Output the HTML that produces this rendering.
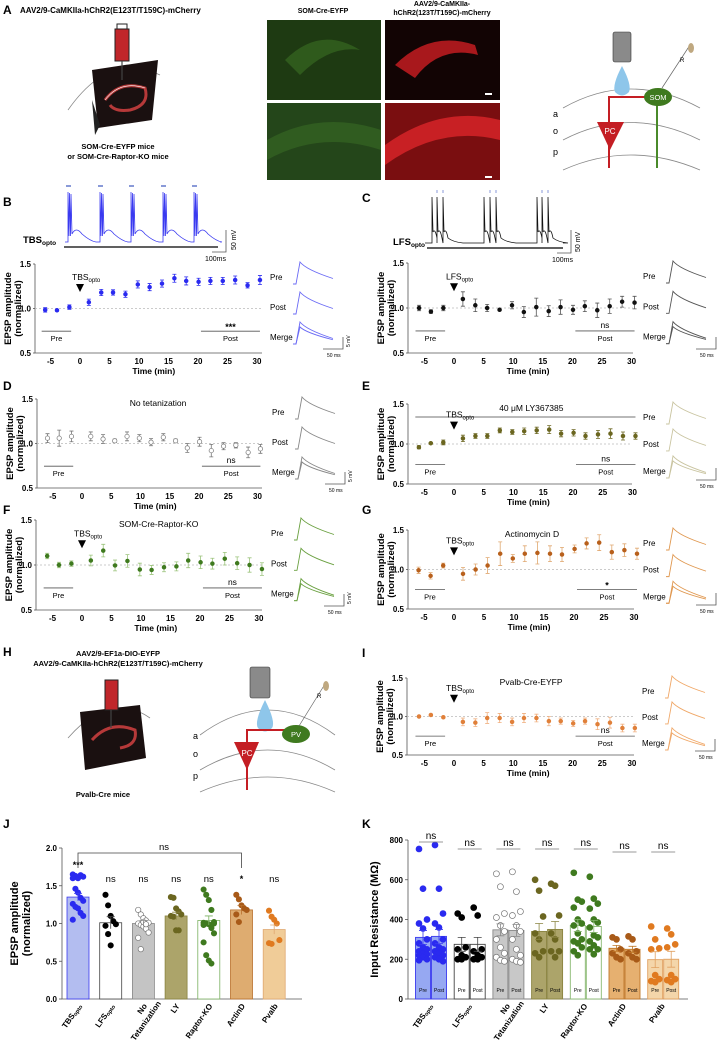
<!DOCTYPE html>
<html><head><meta charset="utf-8"><style>
html,body{margin:0;padding:0;background:#fff;}
svg{display:block;font-family:"Liberation Sans",Arial,sans-serif;}
</style></head><body>
<svg id="fig" width="717" height="1042" viewBox="0 0 717 1042" xmlns="http://www.w3.org/2000/svg">
<!-- Panel A -->
<g>
<text x="3" y="14" font-size="12" font-weight="bold">A</text>
<text x="20" y="13" font-size="8" font-weight="bold">AAV2/9-CaMKIIa-hChR2(E123T/T159C)-mCherry</text>
<path d="M68 110 Q110 50 160 75" fill="none" stroke="#888" stroke-width="0.8"/>
<polygon points="92,70 158,60 152,120 98,128" fill="#1a1010"/>
<polygon points="92,100 100,125 95,135" fill="#222"/>
<path d="M105 100 Q120 80 145 88 Q150 105 130 110 Q115 112 110 105" fill="none" stroke="#d44" stroke-width="3" opacity="0.8"/>
<path d="M105 100 Q120 80 145 88" fill="none" stroke="#fff" stroke-width="0.6"/>
<rect x="115" y="29" width="14" height="32" fill="#c0262a" stroke="#222" stroke-width="1"/>
<rect x="117" y="24" width="10" height="5" fill="none" stroke="#222"/>
<line x1="122" y1="61" x2="122" y2="80" stroke="#444" stroke-width="1.2"/>
<text x="118" y="149" font-size="7.5" font-weight="bold" text-anchor="middle">SOM-Cre-EYFP mice</text>
<text x="118" y="159" font-size="7.5" font-weight="bold" text-anchor="middle">or SOM-Cre-Raptor-KO mice</text>
<text x="323" y="13" font-size="7" font-weight="bold" text-anchor="middle">SOM-Cre-EYFP</text>
<text x="442" y="6" font-size="7" font-weight="bold" text-anchor="middle">AAV2/9-CaMKIIa-</text>
<text x="442" y="15" font-size="7" font-weight="bold" text-anchor="middle">hChR2(123T/T159C)-mCherry</text>
<rect x="267" y="20" width="114" height="80" fill="#1e3a12"/>
<path d="M285 60 Q320 25 360 50 Q330 45 300 75Z" fill="#2f5a1c"/>
<rect x="267" y="103" width="114" height="77" fill="#24461a"/>
<path d="M267 140 Q320 110 381 130 L381 150 Q320 130 267 160Z" fill="#305c20"/>
<rect x="385" y="20" width="115" height="80" fill="#120404"/>
<path d="M395 65 Q430 30 475 45 L478 55 Q440 45 415 78Z" fill="#a8181c"/>
<rect x="385" y="103" width="115" height="77" fill="#7a0e10"/>
<path d="M385 145 Q440 105 500 120 L500 140 Q440 125 385 165Z" fill="#c82024"/>
<rect x="485" y="93" width="7" height="2" fill="#fff"/>
<rect x="485" y="176" width="7" height="2" fill="#fff"/>
<!-- diagram -->
<path d="M563 108 Q630 70 700 108" fill="none" stroke="#888" stroke-width="0.8"/>
<path d="M563 140 Q630 105 700 140" fill="none" stroke="#888" stroke-width="0.8"/>
<path d="M563 170 Q630 140 700 170" fill="none" stroke="#888" stroke-width="0.8"/>
<rect x="613" y="32" width="18" height="30" rx="2" fill="#8a8a8a" stroke="#333" stroke-width="0.6"/>
<path d="M622 66 Q612 85 615 92 Q622 99 629 92 Q632 85 622 66Z" fill="#8ec6ea"/>
<path d="M609 168 L609 97 L650 97" fill="none" stroke="#c41e24" stroke-width="2"/>
<polygon points="597,122 624,122 610,150" fill="#c41e24"/>
<text x="610" y="134" font-size="8" fill="#fff" text-anchor="middle">PC</text>
<line x1="657" y1="100" x2="657" y2="168" stroke="#4a8a2a" stroke-width="2"/>
<ellipse cx="658" cy="97" rx="14" ry="9" fill="#3f7a1f"/>
<text x="658" y="100" font-size="7.5" fill="#fff" text-anchor="middle">SOM</text>
<line x1="662" y1="88" x2="690" y2="45" stroke="#666" stroke-width="0.7"/>
<ellipse cx="691" cy="48" rx="3" ry="5" fill="#bfa880"/>
<text x="680" y="62" font-size="6">R</text>
<text x="553" y="117" font-size="9">a</text>
<text x="553" y="134" font-size="9">o</text>
<text x="553" y="155" font-size="9">p</text>
</g>
<!-- Panel H -->
<g>
<text x="3" y="656" font-size="12" font-weight="bold">H</text>
<text x="118" y="656" font-size="7.5" font-weight="bold" text-anchor="middle">AAV2/9-EF1a-DIO-EYFP</text>
<text x="118" y="666" font-size="7.5" font-weight="bold" text-anchor="middle">AAV2/9-CaMKIIa-hChR2(E123T/T159C)-mCherry</text>
<path d="M68 738 Q110 690 150 718" fill="none" stroke="#888" stroke-width="0.8"/>
<polygon points="80,712 140,705 146,758 85,770" fill="#1a1010"/>
<path d="M92 740 Q110 720 135 730 Q138 745 120 748" fill="none" stroke="#d44" stroke-width="3" opacity="0.8"/>
<rect x="105" y="680" width="13" height="30" fill="#c0262a" stroke="#222"/>
<line x1="111" y1="710" x2="111" y2="728" stroke="#444" stroke-width="1.2"/>
<text x="103" y="797" font-size="7.5" font-weight="bold" text-anchor="middle">Pvalb-Cre mice</text>
<path d="M200 735 Q268 685 335 735" fill="none" stroke="#888" stroke-width="0.8"/>
<path d="M200 770 Q268 730 335 770" fill="none" stroke="#888" stroke-width="0.8"/>
<path d="M200 792 Q268 762 335 792" fill="none" stroke="#888" stroke-width="0.8"/>
<rect x="250" y="667" width="20" height="31" rx="2" fill="#8a8a8a" stroke="#333" stroke-width="0.6"/>
<path d="M265 700 Q254 722 258 728 Q265 735 272 728 Q276 722 265 700Z" fill="#8ec6ea"/>
<path d="M247 790 L247 730 L286 730" fill="none" stroke="#c41e24" stroke-width="2"/>
<polygon points="234,742 259,742 247,770" fill="#c41e24"/>
<text x="247" y="756" font-size="8" fill="#fff" text-anchor="middle">PC</text>
<ellipse cx="296" cy="734" rx="14" ry="9" fill="#3f7a1f"/>
<text x="296" y="737" font-size="7.5" fill="#fff" text-anchor="middle">PV</text>
<line x1="299" y1="726" x2="325" y2="684" stroke="#666" stroke-width="0.7"/>
<ellipse cx="326" cy="686" rx="3" ry="5" fill="#bfa880"/>
<text x="317" y="698" font-size="6">R</text>
<text x="193" y="739" font-size="9">a</text>
<text x="193" y="757" font-size="9">o</text>
<text x="193" y="779" font-size="9">p</text>
</g>
<g id="dyn"></g>
</svg>
<script>
// ---- Time-course data ----
var times=[-5.9,-3.9,-1.8,1.5,3.6,5.6,7.7,9.8,11.8,13.9,16,18,20.1,22.1,24.2,26.3,28.4,30.5];
var bVals=[0.985,0.98,1.015,1.07,1.18,1.18,1.16,1.27,1.24,1.28,1.34,1.31,1.30,1.31,1.31,1.32,1.26,1.32];
var bErr=[0.025,0.01,0.025,0.035,0.035,0.03,0.035,0.04,0.04,0.04,0.045,0.045,0.04,0.04,0.04,0.045,0.03,0.05];
var cVals=[1.0,0.96,1.0,1.10,1.03,1.0,0.98,1.03,0.955,1.01,0.965,1.01,0.98,1.02,0.975,1.02,1.07,1.06];
var cErr=[0.03,0.02,0.03,0.08,0.07,0.04,0.01,0.04,0.06,0.1,0.06,0.08,0.05,0.06,0.08,0.08,0.06,0.07];
var dVals=[1.06,1.06,1.08,1.08,1.05,1.03,1.08,1.06,1.015,1.07,1.03,0.95,1.02,0.92,0.97,0.98,0.90,0.94];
var dErr=[0.05,0.09,0.06,0.05,0.05,0.02,0.05,0.04,0.04,0.04,0.02,0.05,0.05,0.07,0.04,0.03,0.06,0.05];
var eVals=[0.96,1.01,1.02,1.07,1.10,1.10,1.17,1.15,1.16,1.17,1.18,1.13,1.14,1.10,1.12,1.13,1.10,1.10];
var eErr=[0.02,0.01,0.03,0.04,0.03,0.03,0.03,0.03,0.04,0.04,0.05,0.04,0.04,0.04,0.05,0.06,0.05,0.04];
var fVals=[1.10,1.0,1.015,1.05,1.16,0.995,1.045,0.95,0.945,0.975,0.985,1.05,1.03,1.015,1.07,1.02,1.0,0.955];
var fErr=[0.03,0.03,0.03,0.06,0.07,0.06,0.07,0.07,0.05,0.05,0.05,0.08,0.07,0.06,0.07,0.07,0.08,0.07];
var gVals=[0.99,0.92,1.05,0.945,1.0,1.05,1.2,1.14,1.2,1.21,1.2,1.19,1.26,1.33,1.34,1.22,1.245,1.2];
var gErr=[0.04,0.04,0.03,0.08,0.07,0.1,0.15,0.05,0.1,0.14,0.1,0.09,0.05,0.07,0.1,0.09,0.08,0.07];
var iVals=[1.0,1.02,0.99,0.93,0.92,0.98,0.98,0.93,0.98,0.98,0.94,0.94,0.91,0.94,0.90,0.92,0.85,0.85];
var iErr=[0.01,0.01,0.01,0.05,0.05,0.07,0.06,0.05,0.06,0.05,0.06,0.04,0.04,0.04,0.07,0.07,0.05,0.05];
var timeTicks=[-5,0,5,10,15,20,25,30];
var yTicks=[0.5,1.0,1.5];
// ---- Bar chart J ----
var jCats=["TBS","LFS","No Tetanization","LY","Raptor-KO","ActinD","Pvalb"];
var jMeans=[1.35,1.01,1.0,1.1,1.04,1.18,0.92];
var jSem=[0.05,0.08,0.04,0.05,0.06,0.06,0.06];
var jPts=[[1.65,1.63,1.60,1.64,1.62,1.60,1.46,1.41,1.34,1.30,1.26,1.22,1.20,1.14,1.10,1.05],
[1.38,1.24,1.10,1.03,0.99,0.97,0.86,0.71],
[1.18,1.12,1.07,1.04,1.01,1.0,0.98,0.96,0.93,0.88,0.81,0.66,1.02,0.99],
[1.35,1.34,1.20,1.16,1.12,1.10,1.09,0.91,0.91],
[1.45,1.38,1.31,1.18,1.02,1.01,1.0,0.99,0.94,0.87,0.75,0.58,0.51,0.47,1.0,0.98],
[1.38,1.32,1.24,1.20,1.18,1.12,1.02],
[1.17,1.09,1.05,1.00,0.78,0.74,0.73]];
var jSig=["***","ns","ns","ns","ns","*","ns"];
var jTicks=[0.0,0.5,1.0,1.5,2.0];
// ---- Bar chart K ----
var kPreMeans=[310,275,348,340,370,255,198];
var kPostMeans=[315,275,345,350,365,250,200];
var kSem=[35,35,30,40,30,15,40];
var kPrePts=[[755,555,400,380,355,300,280,260,250,240,230,225,220,210,200,195],[430,410,260,250,220,210,200,200],[630,565,430,410,370,340,300,260,230,210,195,190],[600,545,415,330,300,240,230,210],[635,500,490,460,400,380,370,330,300,290,280,260,240,220],[310,300,250,230,210,200],[365,300,255,250,120,100,90,85]];
var kPostPts=[[775,555,430,380,360,300,280,260,250,240,230,220,210,200,190],[460,420,250,240,220,210,200,200],[640,540,440,420,370,340,300,250,220,200,190,185],[580,570,420,330,300,240,240,210],[615,505,480,455,400,385,360,320,310,290,270,250,250,225],[315,300,240,230,210,200],[355,325,275,260,120,100,95,85]];
var kTicks=[0,200,400,600,800];

var NS="http://www.w3.org/2000/svg";
var root=document.getElementById('dyn');
function mk(tag,attrs,parent,txt){var e=document.createElementNS(NS,tag);for(var k in attrs)e.setAttribute(k,attrs[k]);if(txt!==undefined)e.textContent=txt;(parent||root).appendChild(e);return e;}
function grp(name,parent){var g=mk('g',{},parent);


return g;}

var panels=[
{id:'b',letter:'B',lx:3,ly:206,ax:35,xe:262,y15:264,y05:353,x0:80,k:5.9,col:'#2a2af0',vals:bVals,err:bErr,open:false,title:'',stim:'TBS',sig:'***',tc:'#6b6bf5'},
{id:'c',letter:'C',lx:362,ly:202,ax:408,xe:633,y15:263,y05:353,x0:454,k:5.92,col:'#111',vals:cVals,err:cErr,open:false,title:'',stim:'LFS',sig:'ns',tc:'#555',ecol:'#555'},
{id:'d',letter:'D',lx:3,ly:390,ax:37,xe:262,y15:399,y05:488,x0:82,k:5.85,col:'#777',vals:dVals,err:dErr,open:true,title:'No tetanization',stim:'',sig:'ns',tc:'#888'},
{id:'e',letter:'E',lx:362,ly:390,ax:408,xe:632,y15:404,y05:484,x0:454,k:5.95,col:'#6b6620',vals:eVals,err:eErr,open:false,title:'40  μM LY367385',stim:'TBS',sig:'ns',tc:'#c9c4a0',bar:true},
{id:'f',letter:'F',lx:3,ly:514,ax:36,xe:262,y15:520,y05:610,x0:82,k:5.9,col:'#3f7a1f',vals:fVals,err:fErr,open:false,title:'SOM-Cre-Raptor-KO',stim:'TBS',sig:'ns',tc:'#6aa040',ecol:'#9cc47c'},
{id:'g',letter:'G',lx:362,ly:514,ax:408,xe:634,y15:530,y05:609,x0:454,k:6.0,col:'#b8601c',vals:gVals,err:gErr,open:false,title:'Actinomycin D',stim:'TBS',sig:'*',tc:'#e09850',ecol:'#e0a870'},
{id:'i',letter:'I',lx:362,ly:657,ax:407,xe:634,y15:678,y05:755,x0:454,k:5.93,col:'#e0803a',vals:iVals,err:iErr,open:false,title:'Pvalb-Cre-EYFP',stim:'TBS',sig:'ns',tc:'#f0a868',ecol:'#f0b080'}
];

function epspPath(x,y,w,h){return 'M'+x+','+(y+h)+' L'+(x+3)+','+(y+h)+' L'+(x+7)+','+y+' Q'+(x+13)+','+(y+h*0.35)+' '+(x+w)+','+(y+h*0.75);}

panels.forEach(function(p){
  var g=grp('panel-'+p.id);
  var t=mk('text',{x:p.lx,y:p.ly,'font-size':12,'font-weight':'bold'},g,p.letter);
  
  
  function X(v){return p.x0+v*p.k;}
  function Y(v){return p.y05-(v-0.5)*(p.y05-p.y15);}
  var ax=mk('path',{d:'M'+p.ax+','+(p.y15)+' L'+p.ax+','+p.y05+' L'+p.xe+','+p.y05,fill:'none',stroke:'#555','stroke-width':0.8},g);
  
  
  yTicks.forEach(function(v){
    var tl=mk('text',{x:p.ax-4,y:Y(v)+3,'font-size':8,'font-weight':'bold','text-anchor':'end'},g,v.toFixed(1));
    
    
    mk('line',{x1:p.ax-2,x2:p.ax,y1:Y(v),y2:Y(v),stroke:'#555','stroke-width':0.8},g);
  });
  timeTicks.forEach(function(v){
    var tl=mk('text',{x:X(v),y:p.y05+11,'font-size':8,'font-weight':'bold','text-anchor':'middle'},g,String(v));
    
    
  });
  var xt=mk('text',{x:X(12.5),y:p.y05+21,'font-size':8.5,'font-weight':'bold','text-anchor':'middle'},g,'Time (min)');
  
  
  var yt=mk('text',{transform:'translate('+(p.ax-24)+','+((p.y15+p.y05)/2)+') rotate(-90)','font-size':9.5,'font-weight':'bold','text-anchor':'middle'},g);
  
  
  mk('tspan',{x:0,dy:0},yt,'EPSP amplitude');
  mk('tspan',{x:0,dy:10},yt,'(normalized)');
  var bl=mk('line',{x1:p.ax,x2:p.xe,y1:Y(1),y2:Y(1),stroke:'#bbb','stroke-width':0.7,'stroke-dasharray':'2,2'},g);
  
  
  if(p.title){var tt=mk('text',{x:X(13),y:p.y15+7,'font-size':8.5,'text-anchor':'middle'},g,p.title);
    
    }
  if(p.bar){var lb=mk('line',{x1:X(-6.5),x2:X(30.5),y1:p.y15+13,y2:p.y15+13,stroke:'#444','stroke-width':0.8},g);
    
    }
  if(p.stim){
    var ay=Y(1.23);
    var ar=mk('polygon',{points:(X(0)-4)+','+(ay-4)+' '+(X(0)+4)+','+(ay-4)+' '+X(0)+','+(ay+4),fill:'#000'},g);
    
    
    var st=mk('text',{x:X(0)-8,y:ay-8,'font-size':8.5},g);
    
    
    mk('tspan',{},st,p.stim);mk('tspan',{'font-size':6,dy:2},st,'opto');
  }
  // pre/post bars
  var by=Y(0.745);
  var pl=mk('line',{x1:X(-6.5),x2:X(-1.5),y1:by,y2:by,stroke:'#555','stroke-width':0.8},g);
  
  
  var pt=mk('text',{x:X(-4),y:by+10,'font-size':7.5,'text-anchor':'middle'},g,'Pre');
  
  
  var ql=mk('line',{x1:X(20.5),x2:X(30.5),y1:by,y2:by,stroke:'#555','stroke-width':0.8},g);
  
  
  var qt=mk('text',{x:X(25.5),y:by+10,'font-size':7.5,'text-anchor':'middle'},g,'Post');
  
  
  var sg=mk('text',{x:X(25.5),y:by-(p.sig==='ns'?3:1),'font-size':p.sig==='ns'?8.5:9,'font-weight':p.sig==='ns'?'normal':'bold','text-anchor':'middle'},g,p.sig);
  
  
  // points
  times.forEach(function(tv,i){
    var v=p.vals[i],e=p.err[i],cx=X(tv);
    var eb=mk('path',{d:'M'+cx+','+Y(v-e)+' L'+cx+','+Y(v+e)+' M'+(cx-2)+','+Y(v-e)+' L'+(cx+2)+','+Y(v-e)+' M'+(cx-2)+','+Y(v+e)+' L'+(cx+2)+','+Y(v+e),stroke:p.ecol||p.col,'stroke-width':0.8,fill:'none'},g);
    
    
    var c=mk('circle',{cx:cx,cy:Y(v),r:p.open?2.2:1.9,fill:p.open?'#fff':p.col,stroke:p.col,'stroke-width':0.7},g);
    
    
  });
  // inset traces
  var tx=p.ax+258,lx=p.ax+235;
  ['Pre','Post','Merge'].forEach(function(nm,j){
    var ty=p.y15-2+j*30*(p.y05-p.y15)/89;
    var lab=mk('text',{x:lx,y:ty+18,'font-size':8},g,nm);
    
    
    var tr=mk('path',{d:epspPath(tx,ty,40,22),fill:'none',stroke:p.tc,'stroke-width':0.9},g);
    
    
    if(j===2){var tr2=mk('path',{d:epspPath(tx,ty+5,40,17),fill:'none',stroke:p.tc,'stroke-width':0.9},g);
      
      }
  });
  var sb=mk('path',{d:'M'+(tx+30)+','+(p.y05-4)+' L'+(tx+50)+','+(p.y05-4)+' L'+(tx+50)+','+(p.y05-16),fill:'none',stroke:'#555','stroke-width':0.8},g);
  
  
  mk('text',{x:tx+34,y:p.y05+4,'font-size':5},g,'50 ms');
  mk('text',{transform:'translate('+(tx+57)+','+(p.y05-6)+') rotate(-90)','font-size':5},g,'5 mV');
});

// stimulation traces B & C
(function(){
  var g=grp('tbs-trace-b');
  var spikes=[68,100,131,163,194];
  var d='M65,242';
  spikes.forEach(function(s){d+=' L'+s+',242 L'+s+',192 L'+(s+1)+',236 L'+(s+1.5)+',193 L'+(s+2.5)+',236 L'+(s+3)+',194 L'+(s+4)+',234 Q'+(s+8)+',226 '+(s+14)+',234 Q'+(s+22)+',241 '+(s+28)+',242';});
  d+=' L220,242';
  mk('path',{d:d,fill:'none',stroke:'#3a3af0','stroke-width':0.8},g);
  spikes.forEach(function(s){var r=mk('rect',{x:s-2,y:185,width:5,height:2,fill:'#8a9ad8'},g);
    
    });
  mk('line',{x1:64,x2:218,y1:247,y2:247,stroke:'#000','stroke-width':1.2},g);
  var lt=mk('text',{x:23,y:243,'font-size':9.5,'font-weight':'bold'},g);
  
  
  mk('tspan',{},lt,'TBS');mk('tspan',{'font-size':6.5,dy:2},lt,'opto');
  mk('path',{d:'M226,230 L226,252 L212,252',fill:'none',stroke:'#555','stroke-width':0.8},g);
  mk('text',{transform:'translate(236,250) rotate(-90)','font-size':7},g,'50 mV');
  mk('text',{x:205,y:261,'font-size':7},g,'100ms');

  var g2=grp('lfs-trace-c');
  var groups=[[432,437,443],[484,490,496],[537,542,548]];
  var d2='M425,243';
  groups.forEach(function(gp){gp.forEach(function(s,i){d2+=' L'+s+',243 L'+s+',197 L'+(s+1)+',232 Q'+(s+3)+',228 '+(s+5)+',238';});d2+=' Q'+(gp[2]+10)+',242 '+(gp[2]+20)+',243';});
  d2+=' L563,243';
  mk('path',{d:d2,fill:'none',stroke:'#111','stroke-width':0.8},g2);
  groups.forEach(function(gp){gp.slice(1).forEach(function(s){mk('rect',{x:s-0.5,y:190,width:1,height:3,fill:'#8a9ad8'},g2);});});
  mk('line',{x1:427,x2:563,y1:248,y2:248,stroke:'#000','stroke-width':1.2},g2);
  var lt2=mk('text',{x:393,y:245,'font-size':9.5,'font-weight':'bold'},g2);
  
  
  mk('tspan',{},lt2,'LFS');mk('tspan',{'font-size':6.5,dy:2},lt2,'opto');
  mk('path',{d:'M571,230 L571,253 L557,253',fill:'none',stroke:'#555','stroke-width':0.8},g2);
  mk('text',{transform:'translate(580,252) rotate(-90)','font-size':7},g2,'50 mV');
  mk('text',{x:552,y:262,'font-size':7},g2,'100ms');
})();

// J chart
(function(){
  var g=grp('panel-j');
  var t=mk('text',{x:3,y:828,'font-size':12,'font-weight':'bold'},g,'J');
  
  
  var axX=62,xEnd=302,y0=999,yTop=848;
  function Y(v){return y0-v/2*(y0-yTop);}
  function X(i){return 78+i*32.7;}
  var fills=['#b3bdf0','#fff','#c4c4c4','#aca46a','#fff','#deac70','#f0cc98'];
  var strokes=['#3a3af0','#444','#888','#8a8440','#7ab060','#b8702c','#e0a870'];
  var dots=['#2a2af0','#000','#fff','#6b6620','#3f7a1f','#a85a18','#e07a20'];
  mk('path',{d:'M'+axX+','+yTop+' L'+axX+','+y0+' L'+xEnd+','+y0,fill:'none',stroke:'#555','stroke-width':0.8},g);
  jTicks.forEach(function(v){
    mk('line',{x1:axX-3,x2:axX,y1:Y(v),y2:Y(v),stroke:'#555','stroke-width':0.8},g);
    var tl=mk('text',{x:axX-5,y:Y(v)+3,'font-size':8,'font-weight':'bold','text-anchor':'end'},g,v.toFixed(1));
    
    
  });
  var yt=mk('text',{transform:'translate(18,'+Y(1)+') rotate(-90)','font-size':11,'font-weight':'bold','text-anchor':'middle'},g);
  
  
  mk('tspan',{x:0,dy:0},yt,'EPSP amplitude');mk('tspan',{x:0,dy:12},yt,'(normalized)');
  jCats.forEach(function(c,i){
    var cx=X(i);
    var b=mk('rect',{x:cx-11,y:Y(jMeans[i]),width:22,height:y0-Y(jMeans[i]),fill:fills[i],stroke:strokes[i],'stroke-width':0.8},g);
    
    
    jPts[i].forEach(function(v,k){
      var off=((k%5)-2)*2.6;
      var d=mk('circle',{cx:cx+off,cy:Y(v),r:2.7,fill:dots[i],stroke:i===2?'#777':dots[i],'stroke-width':0.7},g);
      
      
    });
    mk('path',{d:'M'+cx+','+Y(jMeans[i]-jSem[i])+' L'+cx+','+Y(jMeans[i]+jSem[i])+' M'+(cx-4)+','+Y(jMeans[i]+jSem[i])+' L'+(cx+4)+','+Y(jMeans[i]+jSem[i]),stroke:strokes[i],'stroke-width':0.8},g);
    var s=mk('text',{x:cx,y:i===0?868:882,'font-size':i===0||i===5?9:9.5,'font-weight':i===0||i===5?'bold':'normal','text-anchor':'middle'},g,jSig[i]);
    
    
  });
  var lab=[['TBS','opto'],['LFS','opto'],['No','Tetanization'],['LY'],['Raptor-KO'],['ActinD'],['Pvalb']];
  lab.forEach(function(l,i){
    var cx=X(i)+4;
    var tl=mk('text',{transform:'translate('+cx+',1006) rotate(-55)','font-size':8,'font-weight':'bold','text-anchor':'end'},g);
    
    
    if(i<2){mk('tspan',{},tl,l[0]);mk('tspan',{'font-size':5.5,dy:1},tl,l[1]);}
    else if(i===2){mk('tspan',{x:0,dy:0},tl,'No');mk('tspan',{x:10,dy:10},tl,'Tetanization');}
    else mk('tspan',{},tl,l[0]);
  });
  var br=mk('path',{d:'M'+X(0)+',868 L'+X(0)+',853 L'+X(5)+',853 L'+X(5)+',868',fill:'none',stroke:'#444','stroke-width':0.8},g);
  
  
  mk('text',{x:164,y:850,'font-size':9.5,'text-anchor':'middle'},g,'ns');
})();

// K chart
(function(){
  var g=grp('panel-k');
  var t=mk('text',{x:362,y:828,'font-size':12,'font-weight':'bold'},g,'K');
  
  
  var axX=408,xEnd=688,y0=999,yTop=840;
  function Y(v){return y0-v/800*(y0-yTop);}
  function X(i){return 431+i*38.7;}
  var fills=['#96a8f2','#fff','#c8c8c8','#aca46a','#fff','#e6b070','#f4d6aa'];
  var strokes=['#3a3af0','#444','#888','#8a8440','#88b870','#c07828','#e0a060'];
  var dots=['#2a2af0','#000','#fff','#6b6620','#3f7a1f','#a85a18','#e07a20'];
  mk('path',{d:'M'+axX+','+yTop+' L'+axX+','+y0+' L'+xEnd+','+y0,fill:'none',stroke:'#555','stroke-width':0.8},g);
  kTicks.forEach(function(v){
    mk('line',{x1:axX-3,x2:axX,y1:Y(v),y2:Y(v),stroke:'#555','stroke-width':0.8},g);
    var tl=mk('text',{x:axX-5,y:Y(v)+3,'font-size':8,'font-weight':'bold','text-anchor':'end'},g,String(v));
    
    
  });
  var yt=mk('text',{transform:'translate(378,'+Y(400)+') rotate(-90)','font-size':11,'font-weight':'bold','text-anchor':'middle'},g,'Input Resistance (MΩ)');
  
  
  jCats.forEach(function(c,i){
    [[kPreMeans,kPrePts,-8,'Pre'],[kPostMeans,kPostPts,8,'Post']].forEach(function(s){
      var cx=X(i)+s[2],m=s[0][i];
      var b=mk('rect',{x:cx-7.5,y:Y(m),width:15,height:y0-Y(m),fill:fills[i],stroke:strokes[i],'stroke-width':0.9},g);
      
      
      s[1][i].forEach(function(v,k){
        var off=((k%3)-1)*4;
        var d=mk('circle',{cx:cx+off,cy:Y(v),r:3,fill:dots[i],stroke:i===2?'#777':dots[i],'stroke-width':0.7},g);
        
        
      });
      mk('path',{d:'M'+cx+','+Y(m-kSem[i])+' L'+cx+','+Y(m+kSem[i])+' M'+(cx-4)+','+Y(m+kSem[i])+' L'+(cx+4)+','+Y(m+kSem[i])+' M'+(cx-4)+','+Y(m-kSem[i])+' L'+(cx+4)+','+Y(m-kSem[i]),stroke:strokes[i],'stroke-width':0.8,fill:'none'},g);
      mk('text',{x:cx,y:992,'font-size':5,'text-anchor':'middle'},g,s[3]);
    });
    var sy=i===0?842:i===5||i===6?852:849;
    mk('line',{x1:X(i)-12,x2:X(i)+12,y1:sy,y2:sy,stroke:'#777','stroke-width':0.8},g);
    var sg=mk('text',{x:X(i),y:sy-3,'font-size':10,'text-anchor':'middle'},g,'ns');
    
    
  });
  var lab=[['TBS','opto'],['LFS','opto'],['No','Tetanization'],['LY'],['Raptor-KO'],['ActinD'],['Pvalb']];
  lab.forEach(function(l,i){
    var cx=X(i)+2;
    var tl=mk('text',{transform:'translate('+cx+',1006) rotate(-55)','font-size':8,'font-weight':'bold','text-anchor':'end'},g);
    
    
    if(i<2){mk('tspan',{},tl,l[0]);mk('tspan',{'font-size':5.5,dy:1},tl,l[1]);}
    else if(i===2){mk('tspan',{x:0,dy:0},tl,'No');mk('tspan',{x:10,dy:10},tl,'Tetanization');}
    else mk('tspan',{},tl,l[0]);
  });
})();
</script>
</body></html>
